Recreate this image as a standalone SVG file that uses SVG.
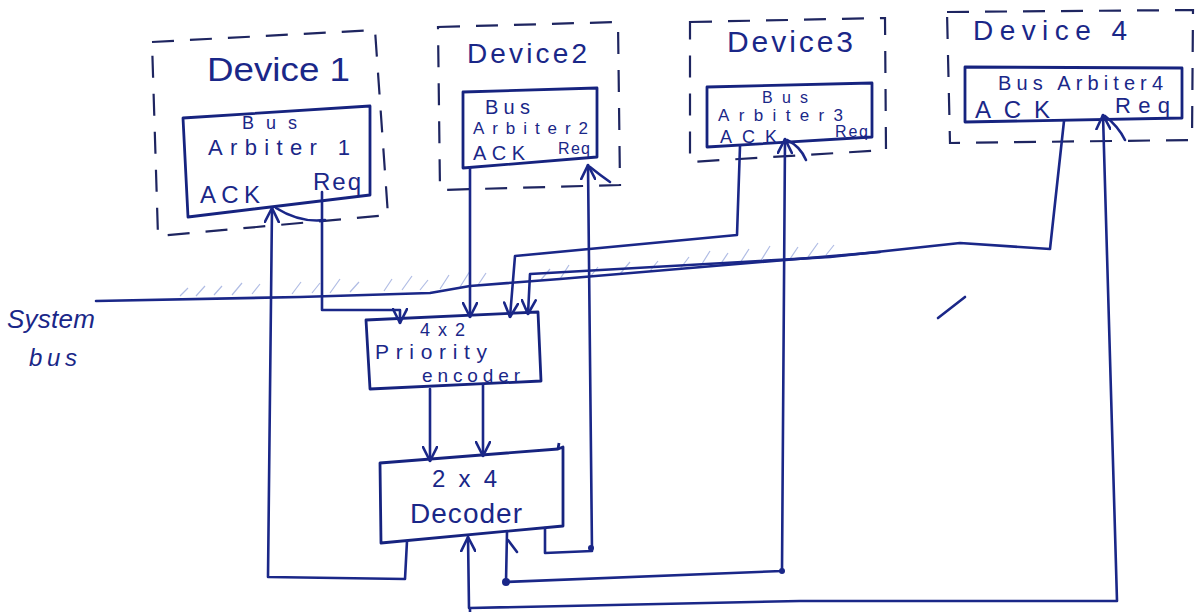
<svg xmlns="http://www.w3.org/2000/svg" width="1197" height="612" viewBox="0 0 1197 612">
<style>
.ln{fill:none;stroke:#1a2788;stroke-width:2.6;stroke-linecap:round;stroke-linejoin:round}
.box{fill:none;stroke:#16237f;stroke-width:2.8;stroke-linejoin:round}
.dash{fill:none;stroke:#1e2560;stroke-width:2.2;stroke-dasharray:22 16}
.hatch{fill:none;stroke:#8fa0d8;stroke-width:1.2;opacity:0.7}
.t{font-family:"Liberation Sans",Arial,sans-serif;fill:#1a2788}
.dot{fill:#1a2788}
</style>
<defs>
<marker id="arr" viewBox="0 0 16 16" refX="15" refY="8" markerWidth="16" markerHeight="16" markerUnits="userSpaceOnUse" orient="auto">
<path d="M1,1 L15,8 L1,15" fill="none" stroke="#1a2788" stroke-width="2.6" stroke-linecap="round" stroke-linejoin="round"/>
</marker>
</defs>
<rect width="1197" height="612" fill="#ffffff"/>

<g id="device1">
<path class="dash" d="M152,42 L375,30 L388,215 L158,236 Z"/>
<text class="t" x="207" y="81" font-size="34" textLength="143" lengthAdjust="spacingAndGlyphs">Device 1</text>
<path class="box" d="M183,118 L370,106 L370,195 L188,217 Z"/>
<text class="t" x="242" y="129" font-size="18" textLength="55" lengthAdjust="spacing">Bus</text>
<text class="t" x="208" y="155" font-size="22" textLength="142" lengthAdjust="spacing">Arbiter 1</text>
<text class="t" x="200" y="203" font-size="24" textLength="60" lengthAdjust="spacing">ACK</text>
<text class="t" x="313" y="190" font-size="24" textLength="48" lengthAdjust="spacing">Req</text>
</g>

<g id="device2">
<path class="dash" d="M438,27 L618,22 L620,185 L440,190 Z"/>
<text class="t" x="467" y="63" font-size="28" textLength="120" lengthAdjust="spacing">Device2</text>
<path class="box" d="M463,92 L597,88 L597,157 L463,168 Z"/>
<text class="t" x="485" y="114" font-size="20" textLength="45" lengthAdjust="spacing">Bus</text>
<text class="t" x="473" y="134" font-size="17" textLength="115" lengthAdjust="spacing">Arbiter2</text>
<text class="t" x="473" y="160" font-size="20" textLength="52" lengthAdjust="spacing">ACK</text>
<text class="t" x="558" y="154" font-size="16" textLength="32" lengthAdjust="spacing">Req</text>
</g>

<g id="device3">
<path class="dash" d="M690,22 L885,18 L886,150 L690,162 Z"/>
<text class="t" x="727" y="52" font-size="30" textLength="126" lengthAdjust="spacing">Device3</text>
<path class="box" d="M707,87 L872,83 L872,137 L707,147 Z"/>
<text class="t" x="762" y="103" font-size="16" textLength="46" lengthAdjust="spacing">Bus</text>
<text class="t" x="718" y="121" font-size="17" textLength="125" lengthAdjust="spacing">Arbiter3</text>
<text class="t" x="720" y="143" font-size="18" textLength="57" lengthAdjust="spacing">ACK</text>
<text class="t" x="835" y="137" font-size="16" textLength="33" lengthAdjust="spacing">Req</text>
</g>

<g id="device4">
<path class="dash" d="M947,12 L1193,10 L1192,140 L950,143 Z"/>
<text class="t" x="973" y="40" font-size="28" textLength="154" lengthAdjust="spacing">Device 4</text>
<path class="box" d="M965,67 L1182,68 L1182,118 L965,122 Z"/>
<text class="t" x="998" y="90" font-size="20" textLength="165" lengthAdjust="spacing">Bus Arbiter4</text>
<text class="t" x="975" y="118" font-size="24" textLength="75" lengthAdjust="spacing">ACK</text>
<text class="t" x="1115" y="113" font-size="22" textLength="55" lengthAdjust="spacing">Req</text>
</g>

<g id="encoder">
<path class="box" d="M366,320 L538,312 L541,381 L370,389 Z"/>
<text class="t" x="420" y="336" font-size="18" textLength="45" lengthAdjust="spacing">4x2</text>
<text class="t" x="375" y="359" font-size="21" textLength="112" lengthAdjust="spacing">Priority</text>
<text class="t" x="422" y="382" font-size="19" textLength="98" lengthAdjust="spacing">encoder</text>
</g>

<g id="decoder">
<path class="box" d="M380,463 L558,449 L563,447 L563,526 L381,543 Z"/>
<path class="box" d="M558,449 L559,443"/>
<text class="t" x="432" y="487" font-size="24" textLength="65" lengthAdjust="spacing">2 x 4</text>
<text class="t" x="410" y="523" font-size="28" textLength="112" lengthAdjust="spacing">Decoder</text>
</g>

<g id="system-bus">
<path class="hatch" d="M180,296 l8,-8 M196,296 l9,-10 M214,295 l8,-9 M232,295 l10,-12 M252,294 l8,-10 M292,294 l9,-12 M312,293 l8,-10 M330,293 l10,-14 M350,292 l9,-10 M384,291 l8,-12 M402,290 l10,-14 M420,290 l8,-10 M440,289 l9,-14 M460,287 l10,-16 M478,285 l8,-12 M540,281 l10,-12 M560,279 l9,-14 M590,277 l8,-10 M620,274 l10,-12 M650,271 l8,-10 M680,269 l9,-12 M700,267 l10,-16 M720,265 l8,-12 M740,263 l9,-14 M760,262 l10,-16 M790,259 l8,-12 M808,257 l10,-14 M826,255 l8,-10"/>
<path class="ln" d="M96,301 L300,297 L430,293 L470,286 L560,279 L880,252"/>
<text class="t" x="7" y="328" font-size="26" textLength="88" lengthAdjust="spacing" font-style="italic">System</text>
<text class="t" x="29" y="366" font-size="24" textLength="48" lengthAdjust="spacing" font-style="italic">bus</text>
</g>

<g id="connectors">
<path class="ln" d="M322,192 L322,310 L400,310 L400,323" marker-end="url(#arr)"/>
<path class="ln" d="M470,168 L470,317" marker-end="url(#arr)"/>
<path class="ln" d="M740,146 L737,235 L515,256 L510,317" marker-end="url(#arr)"/>
<path class="ln" d="M1064,121 L1050,249 L960,243 L830,257 L530,274 L528,314" marker-end="url(#arr)"/>
<path class="ln" d="M430,389 L430,461" marker-end="url(#arr)"/>
<path class="ln" d="M483,384 L483,456" marker-end="url(#arr)"/>
<path class="ln" d="M407,541 L405,579 L268,577 L272,208" marker-end="url(#arr)"/>
<path class="ln" d="M276,208 Q300,223 325,220"/>
<path class="ln" d="M545,528 L545,553 L592,551 L588,165" marker-end="url(#arr)"/>
<path class="ln" d="M590,167 Q600,175 610,182"/>
<path class="ln" d="M507,532 L506,582 L782,571 L785,139" marker-end="url(#arr)"/>
<path class="ln" d="M787,140 Q800,146 806,160"/>
<path class="ln" d="M508,540 L517,552"/>
<path class="ln" d="M470,612 L470,608 L800,601 L1117,601 L1103,115" marker-end="url(#arr)"/>
<path class="ln" d="M1105,116 Q1118,126 1125,140"/>
<path class="ln" d="M469,608 L468,537" marker-end="url(#arr)"/>
<circle class="dot" cx="506" cy="582" r="4"/>
<circle class="dot" cx="782" cy="571" r="3"/>
<circle class="dot" cx="591" cy="548" r="3"/>
<path class="ln" d="M938,318 L965,297" stroke-width="1.6"/>
</g>
</svg>
